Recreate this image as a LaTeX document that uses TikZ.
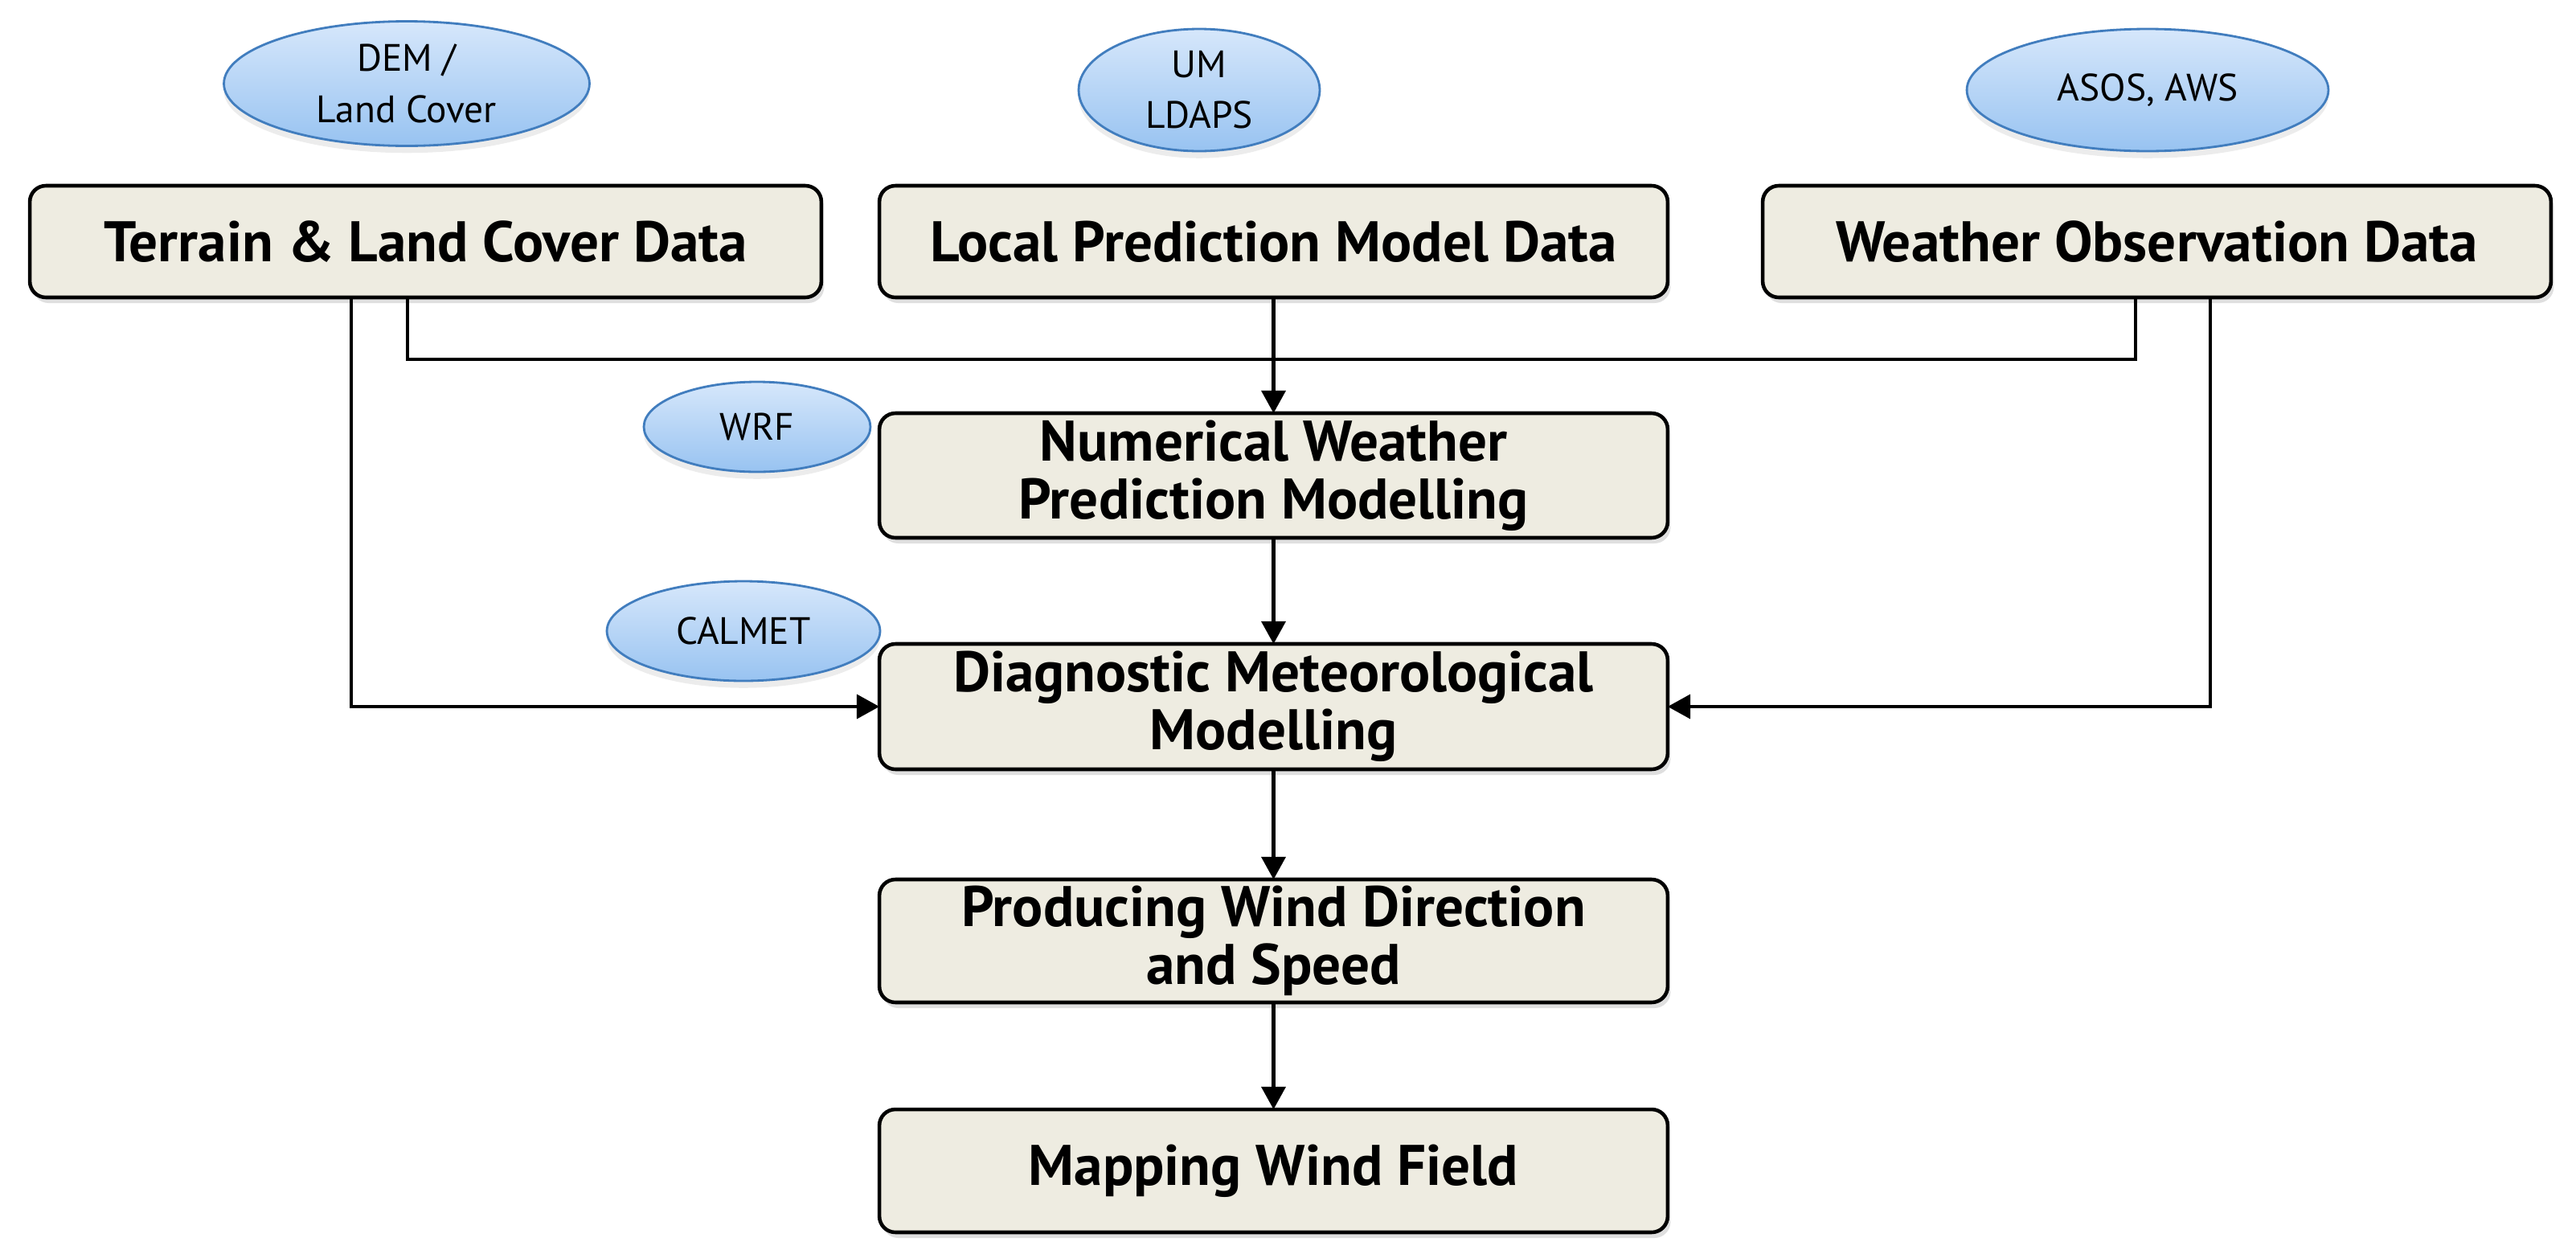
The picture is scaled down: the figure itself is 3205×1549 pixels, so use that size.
\documentclass[tikz,border=0pt]{standalone}
\usepackage{fontspec}
\setmainfont{PT Sans}
\usetikzlibrary{arrows.meta,shapes.geometric,shadows}
\definecolor{boxfill}{HTML}{EEECE1}
\definecolor{ellborder}{RGB}{65,125,190}
\definecolor{elltop}{RGB}{214,231,251}
\definecolor{ellbot}{RGB}{152,195,241}
\tikzset{
  procbox/.style={draw=black, line width=2.6pt, fill=boxfill, rounded corners=0.4cm,
    inner sep=0pt, outer sep=0pt, align=center,
    font=\fontsize{40.5}{41}\selectfont\bfseries,
    drop shadow={shadow xshift=2pt, shadow yshift=-4pt, opacity=0.25}},
  srcell/.style={ellipse, draw=ellborder, line width=1.6pt,
    top color=elltop, bottom color=ellbot, inner sep=0pt, outer sep=0pt,
    align=center, font=\fontsize{27}{36}\selectfont,
    drop shadow={shadow xshift=0pt, shadow yshift=-5pt, opacity=0.15}},
  conn/.style={draw=black, line width=2.3pt},
  arr/.style={conn, -{Triangle[length=16pt,width=17pt]}}
}
\begin{document}
\begin{tikzpicture}[x=0.02cm, y=-0.02cm]
\useasboundingbox (0,0) rectangle (3205,1549);
% boxes
\node[procbox, minimum width=19.7cm, minimum height=2.78cm] (t1) at (529.5,300.5) {Terrain \& Land Cover Data};
\node[procbox, minimum width=19.62cm, minimum height=2.78cm] (t2) at (1584.5,300.5) {Local Prediction Model Data};
\node[procbox, minimum width=19.62cm, minimum height=2.78cm] (t3) at (2683.5,300.5) {Weather Observation Data};
\node[procbox, minimum width=19.62cm, minimum height=3.1cm] (nwp) at (1584.5,591.5) {Numerical Weather\\Prediction Modelling};
\node[procbox, minimum width=19.62cm, minimum height=3.12cm] (dmm) at (1584.5,879) {Diagnostic Meteorological\\Modelling};
\node[procbox, minimum width=19.62cm, minimum height=3.06cm] (pwd) at (1584.5,1170.5) {Producing Wind Direction\\and Speed};
\node[procbox, minimum width=19.62cm, minimum height=3.06cm] (map) at (1584.5,1456.5) {Mapping Wind Field};
% ellipses
\node[srcell, minimum width=9.1cm, minimum height=3.1cm] (dem) at (506,104) {DEM /\\Land Cover};
\node[srcell, minimum width=6.0cm, minimum height=3.04cm] (um) at (1492,112) {UM\\LDAPS};
\node[srcell, minimum width=9.0cm, minimum height=3.04cm] (asos) at (2672,112) {ASOS, AWS};
\node[srcell, minimum width=5.64cm, minimum height=2.24cm] (wrf) at (942,531) {WRF};
\node[srcell, minimum width=6.8cm, minimum height=2.48cm] (calmet) at (925,785) {CALMET};
% junction coordinates
\coordinate (jL) at (437,879);
\coordinate (jA) at (507,447);
\coordinate (jB) at (2657,447);
\coordinate (jR) at (2750,879);
% connectors
\draw[conn] (t1.south -| jA) -- (jA) -- (jB) -- (t3.south -| jB);
\draw[arr] (t1.south -| jL) |- (dmm.west);
\draw[arr] (t3.south -| jR) |- (dmm.east);
\draw[arr] (t2.south) -- (nwp.north);
\draw[arr] (nwp.south) -- (dmm.north);
\draw[arr] (dmm.south) -- (pwd.north);
\draw[arr] (pwd.south) -- (map.north);
\end{tikzpicture}
\end{document}
